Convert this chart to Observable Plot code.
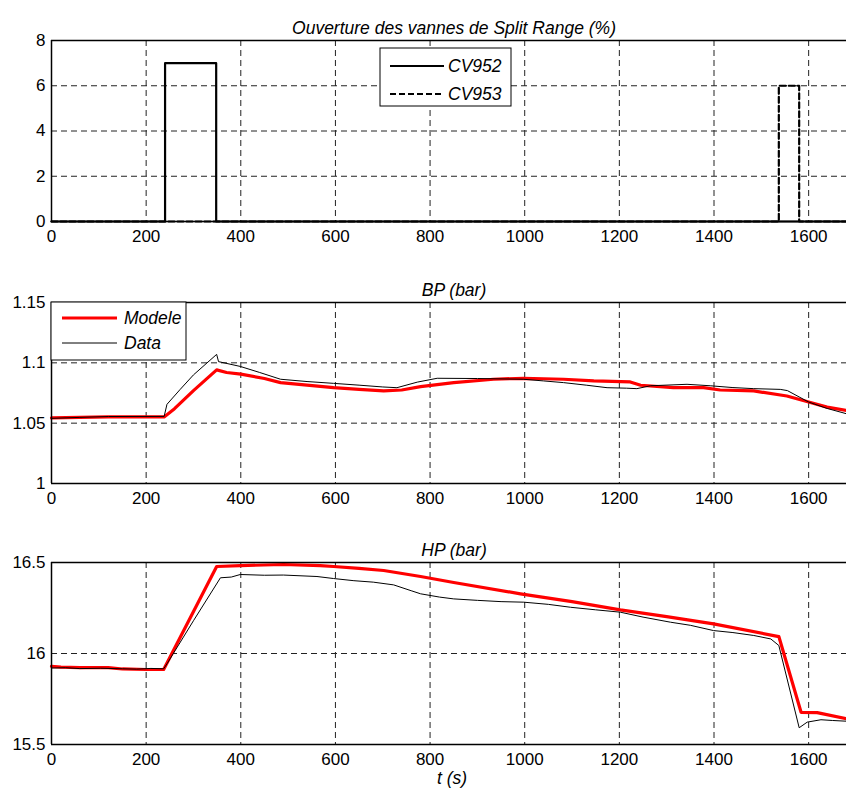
<!DOCTYPE html>
<html>
<head>
<meta charset="utf-8">
<script src="https://cdn.jsdelivr.net/npm/d3@7"></script>
<script src="https://cdn.jsdelivr.net/npm/@observablehq/plot@0.6"></script>
<style>
  html, body { margin: 0; padding: 0; background: #fff; }
  #chart { position: relative; width: 846px; height: 792px; overflow: hidden; background: #fff; }
  #chart > svg { position: absolute; left: 0; }
</style>
</head>
<body>
<div id="chart"></div>
<script>
// ---------- DATA ----------
const titles = ["Ouverture des vannes de Split Range (%)", "BP (bar)", "HP (bar)"];
const xLabel = "t (s)";
const xTicks = [0, 200, 400, 600, 800, 1000, 1200, 1400, 1600];
const xDomain = [0, 1680];

// Panel 1 : split-range valve openings (%)
const valveNames = ["CV952", "CV953"];
const cv952T = [0, 240, 240, 348, 348, 1680];
const cv952V = [0, 0, 7, 7, 0, 0];
const cv953T = [0, 1537, 1537, 1580, 1580, 1680];
const cv953V = [0, 0, 6, 6, 0, 0];
const yTicks1 = [0, 2, 4, 6, 8];

// Panel 2 : BP (bar)
const seriesNames = ["Modele", "Data"];
const bpModelT = [0, 60, 120, 180, 238, 260, 300, 349, 370, 400, 450, 484, 540, 596, 650, 702, 740, 780, 850, 934, 997, 1040, 1082, 1146, 1223, 1245, 1314, 1378, 1413, 1484, 1554, 1600, 1639, 1680];
const bpModel  = [1.0544, 1.0548, 1.0552, 1.0552, 1.0552, 1.062, 1.077, 1.0942, 1.092, 1.0906, 1.087, 1.0836, 1.0815, 1.0794, 1.078, 1.0767, 1.0775, 1.0803, 1.0836, 1.0864, 1.0872, 1.0868, 1.0864, 1.085, 1.0842, 1.0814, 1.0794, 1.0794, 1.0775, 1.0767, 1.0725, 1.0675, 1.0633, 1.0606];
const bpDataT  = [0, 60, 120, 238, 244, 272, 300, 349, 353, 399, 440, 484, 540, 596, 650, 700, 730, 773, 815, 900, 997, 1040, 1082, 1130, 1174, 1215, 1237, 1266, 1343, 1392, 1440, 1484, 1540, 1555, 1600, 1639, 1680];
const bpData   = [1.0540, 1.0548, 1.0555, 1.0556, 1.0656, 1.078, 1.090, 1.107, 1.101, 1.097, 1.092, 1.0864, 1.0845, 1.083, 1.0815, 1.080, 1.0794, 1.084, 1.0872, 1.0870, 1.0864, 1.085, 1.0836, 1.0815, 1.0794, 1.079, 1.0786, 1.081, 1.0822, 1.081, 1.0795, 1.0786, 1.078, 1.077, 1.0675, 1.0622, 1.0578];
const yTicks2 = [1, 1.05, 1.1, 1.15];

// Panel 3 : HP (bar)
const hpModelT = [0, 20, 60, 120, 150, 200, 237, 349, 399, 490, 568, 596, 650, 702, 780, 850, 991, 1100, 1202, 1300, 1399, 1537, 1584, 1618, 1680];
const hpModel  = [15.929, 15.925, 15.922, 15.922, 15.915, 15.912, 15.912, 16.478, 16.483, 16.489, 16.483, 16.478, 16.468, 16.456, 16.423, 16.39, 16.328, 16.285, 16.240, 16.203, 16.163, 16.093, 15.677, 15.675, 15.641];
const hpDataT  = [0, 30, 60, 104, 150, 180, 210, 237, 244, 300, 357, 380, 399, 450, 490, 561, 596, 639, 680, 723, 760, 780, 820, 850, 900, 950, 998, 1050, 1097, 1150, 1202, 1250, 1308, 1350, 1399, 1440, 1484, 1520, 1537, 1580, 1597, 1626, 1650, 1680];
const hpData   = [15.920, 15.922, 15.917, 15.919, 15.916, 15.914, 15.918, 15.916, 15.943, 16.18, 16.416, 16.420, 16.434, 16.430, 16.431, 16.423, 16.412, 16.40, 16.392, 16.377, 16.345, 16.328, 16.31, 16.300, 16.292, 16.285, 16.282, 16.270, 16.254, 16.240, 16.227, 16.20, 16.172, 16.155, 16.126, 16.115, 16.099, 16.08, 16.044, 15.592, 15.623, 15.636, 15.632, 15.628];
const yTicks3 = [15.5, 16, 16.5];

// ---------- HELPERS ----------
const zip = (ts, vs) => ts.map((t, i) => ({t, v: vs[i]}));
const FONT = "'Liberation Sans', Arial, Helvetica, sans-serif";
const GRID = {stroke: "#222", strokeWidth: 1, strokeDasharray: "6,4"};
const TICKFONT = 17;
const TITLEFONT = 17.5;

function panel({title, yTicks, lines, withXLabel}) {
  const yDom = [yTicks[0], yTicks[yTicks.length - 1]];
  const marks = [
    Plot.ruleX(xTicks.filter(t => t > xDomain[0]), GRID),
    Plot.ruleY(yTicks.slice(1, -1), GRID),
    ...lines.map(l => Plot.line(zip(l.t, l.v), {x: "t", y: "v", stroke: l.stroke, strokeWidth: l.width, strokeDasharray: l.dash, curve: "linear"})),
    Plot.ruleX([xDomain[0]], {stroke: "#000", strokeWidth: 1.5}),
    Plot.ruleY([yDom[0]], {stroke: "#000", strokeWidth: 1.5}),
    Plot.ruleY([yDom[1]], {stroke: "#000", strokeWidth: 1.5}),
    Plot.axisX({ticks: xTicks, tickSize: 0, tickPadding: 8, tickFormat: d => String(d), label: null, fontSize: TICKFONT}),
    Plot.axisY({ticks: yTicks, tickSize: 0, tickPadding: 6, tickFormat: d => String(d), label: null, fontSize: TICKFONT}),
    Plot.text([title], {text: d => d, frameAnchor: "top", dy: -19, dx: 5, fontStyle: "italic", fontSize: TITLEFONT})
  ];
  if (withXLabel) marks.push(Plot.text([xLabel], {text: d => d, frameAnchor: "bottom", dy: 39, dx: 3, fontStyle: "italic", fontSize: TITLEFONT}));
  return Plot.plot({
    width: 846,
    height: withXLabel ? 270 : 251,
    marginTop: 40,
    marginBottom: withXLabel ? 48 : 30,
    marginLeft: 51,
    marginRight: 0,
    x: {domain: xDomain, axis: null},
    y: {domain: yDom, axis: null},
    style: {fontFamily: FONT, fontSize: "17px", color: "#000", background: "transparent", overflow: "visible"},
    marks
  });
}

function addLegend(svg, box, entries) {
  const g = d3.select(svg).append("g");
  g.append("rect").attr("x", box.x).attr("y", box.y).attr("width", box.w).attr("height", box.h)
    .attr("fill", "#fff").attr("stroke", "#000").attr("stroke-width", 1);
  entries.forEach((e, i) => {
    const y = box.rows[i];
    g.append("line").attr("x1", box.lx0).attr("x2", box.lx1).attr("y1", y).attr("y2", y)
      .attr("stroke", e.stroke).attr("stroke-width", e.width).attr("stroke-dasharray", e.dash || null);
    g.append("text").attr("x", box.tx).attr("y", y).attr("dy", "0.35em")
      .attr("text-anchor", "start")
      .attr("font-family", FONT).attr("font-size", 17.5).attr("font-style", "italic").attr("fill", "#000")
      .text(e.label);
  });
}

// ---------- BUILD ----------
const chart = document.getElementById("chart");

const cvStyles = [
  {label: valveNames[0], stroke: "#000", width: 2.2, dash: null},
  {label: valveNames[1], stroke: "#000", width: 2.2, dash: "6,3"}
];
const p1 = panel({
  title: titles[0], yTicks: yTicks1,
  lines: [
    {t: cv953T, v: cv953V, ...cvStyles[1]},
    {t: cv952T, v: cv952V, ...cvStyles[0]}
  ]
});
p1.style.top = "0px";
chart.appendChild(p1);
addLegend(p1, {x: 380, y: 48, w: 131, h: 58, lx0: 390, lx1: 444, tx: 448, rows: [66, 94]}, cvStyles);

const mdStyles = [
  {label: seriesNames[0], stroke: "#ff0000", width: 3.2, dash: null},
  {label: seriesNames[1], stroke: "#000", width: 1, dash: null}
];
const p2 = panel({
  title: titles[1], yTicks: yTicks2,
  lines: [
    {t: bpModelT, v: bpModel, ...mdStyles[0]},
    {t: bpDataT, v: bpData, ...mdStyles[1]}
  ]
});
p2.style.top = "262px";
chart.appendChild(p2);
addLegend(p2, {x: 51, y: 40, w: 135, h: 58, lx0: 62, lx1: 117, tx: 124, rows: [56, 81]}, mdStyles);

const p3 = panel({
  title: titles[2], yTicks: yTicks3, withXLabel: true,
  lines: [
    {t: hpModelT, v: hpModel, ...mdStyles[0]},
    {t: hpDataT, v: hpData, ...mdStyles[1]}
  ]
});
p3.style.top = "522px";
chart.appendChild(p3);
</script>
</body>
</html>
